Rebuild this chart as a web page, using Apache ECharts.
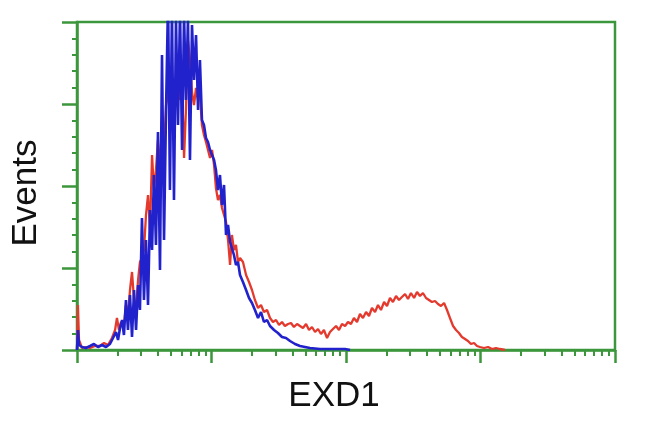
<!DOCTYPE html>
<html>
<head>
<meta charset="utf-8">
<script src="https://cdn.jsdelivr.net/npm/echarts@6/dist/echarts.min.js"></script>
<style>html,body{margin:0;padding:0;background:#fff;}#c{width:650px;height:432px;}</style>
</head>
<body>
<div id="c"></div>
<script>
// x: log10 fluorescence intensity (4 decades), y: events
const xDecades = [0, 1, 2, 3, 4];
const minorMultipliers = [2, 3, 4, 5, 6, 7, 8, 9];
const xTitle = 'EXD1';
const yTitle = 'Events';

const redEvents = [
[0,0],[0.007,22.5],[0.015,5],[0.037,1],[0.067,1.5],[0.097,1],[0.134,2],[0.171,2],[0.201,3.5],[0.230,2.5],
[0.260,6],[0.283,10],[0.297,16],[0.312,10],[0.327,14],[0.349,12.5],[0.364,22.5],[0.379,17.5],[0.394,30],[0.409,39],
[0.424,25],[0.439,21],[0.454,35],[0.468,44],[0.483,46],[0.498,50],[0.513,67.5],[0.528,77.5],[0.543,60],[0.558,97.5],
[0.572,80],[0.587,90],[0.602,105],[0.617,87.5],[0.632,115],[0.647,100],[0.662,122.5],[0.677,127.5],[0.691,132.5],[0.706,126],
[0.721,135],[0.736,127.5],[0.751,140],[0.766,125],[0.781,134],[0.796,96],[0.810,120],[0.825,155],[0.840,145],[0.855,129],
[0.870,122.5],[0.885,131],[0.900,125],[0.914,127.5],[0.929,112.5],[0.944,107.5],[0.959,104],[0.974,100],[0.989,96],[1.004,100],
[1.019,92.5],[1.033,81],[1.048,75],[1.063,77.5],[1.078,71],[1.093,67.5],[1.108,64],[1.123,55],[1.138,42.5],[1.152,57.5],
[1.167,50],[1.182,52.5],[1.197,44],[1.212,46],[1.234,44],[1.257,37.5],[1.279,34],[1.301,30],[1.323,25],[1.346,21],
[1.368,22.5],[1.390,19],[1.413,20],[1.435,16],[1.457,14],[1.480,15],[1.502,12.5],[1.524,14],[1.546,12],[1.569,13],
[1.591,13.5],[1.613,11.5],[1.636,13],[1.658,12],[1.680,11],[1.703,13],[1.725,10],[1.747,11.5],[1.770,9],[1.792,10.5],
[1.814,8],[1.836,10],[1.859,6],[1.881,9],[1.903,10.5],[1.926,12],[1.948,10],[1.970,13],[1.993,12],[2.015,14],
[2.037,13],[2.059,16],[2.082,14],[2.104,18],[2.126,16],[2.149,19],[2.171,17],[2.193,21],[2.216,19],[2.238,22.5],
[2.260,20],[2.283,24],[2.305,22],[2.327,26],[2.349,24],[2.372,27],[2.394,25],[2.416,26.5],[2.439,28],[2.461,25.5],
[2.483,28.5],[2.506,26],[2.528,29],[2.550,27],[2.572,28.5],[2.595,26],[2.617,25],[2.639,24],[2.662,24.5],[2.684,23],
[2.706,22],[2.729,23.5],[2.751,20],[2.773,16],[2.796,12],[2.818,10],[2.840,8.5],[2.862,6.5],[2.885,5.5],[2.907,4.5],
[2.929,3],[2.952,3.5],[2.974,2],[2.996,1.5],[3.026,1],[3.056,1.5],[3.086,0.5],[3.115,1],[3.145,0.5],[3.182,0]
];

const blueEvents = [
[0,0],[0.007,10],[0.015,2.5],[0.037,1.5],[0.067,1],[0.097,2],[0.126,3],[0.156,1.5],[0.186,2.5],[0.216,1.5],
[0.245,3],[0.268,6],[0.290,9],[0.305,5],[0.320,11],[0.335,15],[0.349,7.5],[0.364,25],[0.379,10],[0.394,27.5],
[0.409,6.5],[0.424,30],[0.439,10],[0.454,32.5],[0.468,20],[0.483,66],[0.498,25],[0.513,55],[0.528,22.5],[0.543,70],
[0.558,50],[0.572,87.5],[0.587,52.5],[0.602,109],[0.617,40],[0.632,147.5],[0.647,55],[0.662,120],[0.677,175],[0.691,80],
[0.706,170],[0.721,75],[0.736,165],[0.751,112.5],[0.766,170],[0.781,100],[0.796,167.5],[0.810,125],[0.825,165],[0.840,95],
[0.855,162.5],[0.870,135],[0.885,157.5],[0.900,120],[0.914,145],[0.929,115],[0.944,112.5],[0.959,106],[0.974,104],[0.989,100],
[1.004,97.5],[1.019,95],[1.033,90],[1.048,80],[1.063,87.5],[1.078,72.5],[1.093,82.5],[1.108,57.5],[1.123,62.5],[1.138,54],
[1.152,55],[1.167,47.5],[1.182,42.5],[1.197,44],[1.212,37.5],[1.234,34],[1.257,30],[1.279,26],[1.301,23.5],[1.323,20],
[1.346,16],[1.368,19],[1.390,14],[1.413,15],[1.435,12],[1.465,10],[1.494,8.5],[1.524,6.5],[1.554,6],[1.584,4.5],
[1.621,3],[1.658,2],[1.695,1.5],[1.732,1],[1.807,0.5],[1.881,0.5],[1.993,0.5],[2.030,0]
];

const GREEN = '#3c963c';
const minorTicks = [];
for (let d = 0; d < 4; d++) minorMultipliers.forEach(m => minorTicks.push(d + Math.log10(m)));

const chart = echarts.init(document.getElementById('c'), null, {renderer: 'canvas'});
chart.setOption({
  animation: false,
  backgroundColor: '#fff',
  grid: {left: 77, right: 35, top: 22, bottom: 82, show: true, borderColor: GREEN, borderWidth: 2.5, backgroundColor: 'transparent'},
  xAxis: [{
    type: 'value', min: xDecades[0], max: xDecades[xDecades.length - 1], interval: 1, position: 'bottom',
    axisLine: {show: true, lineStyle: {color: GREEN, width: 2.5}},
    axisTick: {show: true, length: 13, lineStyle: {color: GREEN, width: 2.5}},
    axisLabel: {show: false}, splitLine: {show: false}
  }, {
    type: 'value', min: xDecades[0], max: xDecades[xDecades.length - 1], position: 'bottom', offset: 0,
    axisLine: {show: false},
    axisTick: {show: true, length: 6, customValues: minorTicks, lineStyle: {color: GREEN, width: 2}},
    axisLabel: {show: false}, splitLine: {show: false}
  }],
  yAxis: {
    type: 'value', min: 0, max: 164, interval: 41,
    axisLine: {show: true, lineStyle: {color: GREEN, width: 2.5}},
    axisTick: {show: true, length: 15, lineStyle: {color: GREEN, width: 2.5}},
    minorTick: {show: true, splitNumber: 5, length: 5, lineStyle: {color: GREEN, width: 2}},
    axisLabel: {show: false}, splitLine: {show: false}
  },
  graphic: [
    {type: 'text', x: 334, y: 396, style: {text: xTitle, font: '35px "Liberation Sans", Arial, sans-serif', fill: '#111', align: 'center', verticalAlign: 'middle'}},
    {type: 'text', x: 26, y: 193, rotation: Math.PI / 2, style: {text: yTitle, font: '35px "Liberation Sans", Arial, sans-serif', fill: '#111', align: 'center', verticalAlign: 'middle'}}
  ],
  series: [
    {type: 'line', data: redEvents, showSymbol: false, lineStyle: {color: '#e43a2e', width: 2.3}, z: 3},
    {type: 'line', data: blueEvents, showSymbol: false, lineStyle: {color: '#2222cc', width: 2.6}, z: 4}
  ]
});
</script>
</body>
</html>
